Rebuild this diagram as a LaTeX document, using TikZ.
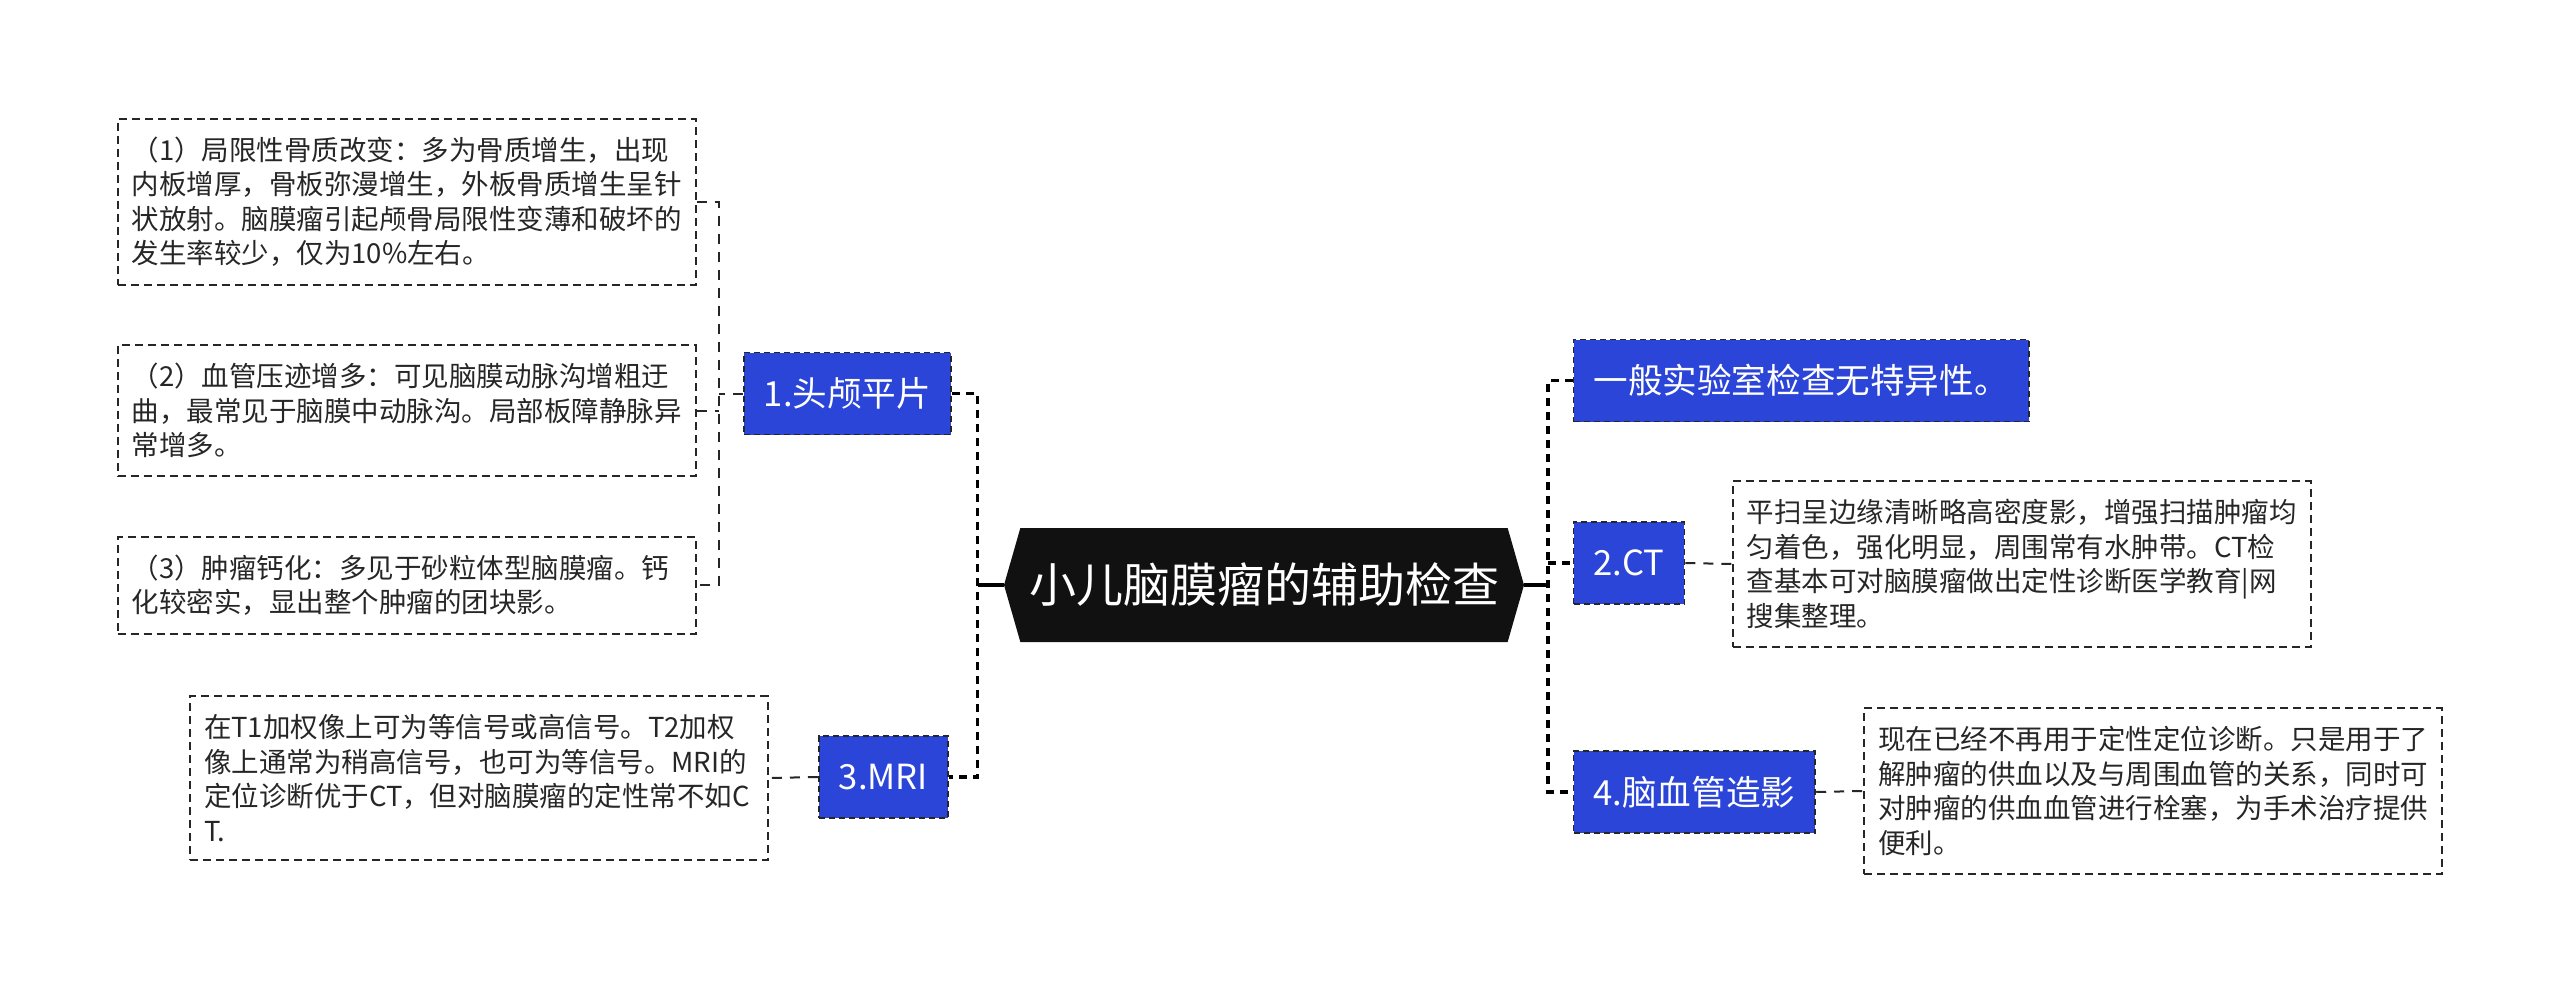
\documentclass[tikz,border=0pt]{standalone}
\usepackage{fontspec}
\setmainfont{Noto Sans CJK SC}
\usetikzlibrary{shapes.symbols}
\definecolor{headblack}{HTML}{111111}
\definecolor{subblue}{HTML}{2B45D9}
\definecolor{notegray}{HTML}{262626}

\begin{document}
\begin{tikzpicture}[x=0.5pt,y=-0.5pt,mainnode/.style={signal,signal to=east and west,signal pointer angle=148,fill=headblack,text=white,minimum width=260pt,minimum height=57pt,inner sep=0pt,font=\fontsize{23.5}{28}\selectfont},subnode/.style={rectangle,draw=black!85,dash pattern=on 3pt off 2pt,line width=0.9pt,fill=subblue,text=white,minimum height=41pt,inner xsep=10pt,inner ysep=0pt,font=\fontsize{17.3}{20}\selectfont},notebox/.style={rectangle,draw=notegray,dash pattern=on 4pt off 2.5pt,line width=1pt,text=notegray,text width=275pt,align=left,inner xsep=7pt,inner ysep=9pt,font=\fontsize{13.75}{17.25}\selectfont},trunkline/.style={draw=black,line width=1.8pt,dash pattern=on 4pt off 3pt},twigline/.style={draw=notegray,line width=1pt,dash pattern=on 5pt off 4pt},stubline/.style={draw=black,line width=1.8pt}]
\useasboundingbox (0,0) rectangle (2560,995);
\coordinate (lj) at (977.5,585);
\coordinate (rj) at (1548,585);
\coordinate (lb) at (718.5,393.5);
\node[mainnode] (head) at (1264,585) {小儿脑膜瘤的辅助检查};
\node[subnode,anchor=east] (xray) at (952,393.5) {1.头颅平片};
\node[subnode,anchor=east] (mri) at (948.8,777) {3.MRI};
\node[subnode,anchor=west] (lab) at (1572.6,380.5) {一般实验室检查无特异性。};
\node[subnode,anchor=west] (ct) at (1572.6,563) {2.CT};
\node[subnode,anchor=west] (dsa) at (1572.6,792) {4.脑血管造影};
\node[notebox] (xray1) at (406.6,201.6) {（1）局限性骨质改变：多为骨质增生，出现\\内板增厚，骨板弥漫增生，外板骨质增生呈针\\状放射。脑膜瘤引起颅骨局限性变薄和破坏的\\发生率较少，仅为10\%左右。};
\node[notebox] (xray2) at (406.6,410.7) {（2）血管压迹增多：可见脑膜动脉沟增粗迂\\曲，最常见于脑膜中动脉沟。局部板障静脉异\\常增多。};
\node[notebox] (xray3) at (406.6,585.4) {（3）肿瘤钙化：多见于砂粒体型脑膜瘤。钙\\化较密实，显出整个肿瘤的团块影。};
\node[notebox] (mrinote) at (479,778) {在T1加权像上可为等信号或高信号。T2加权\\像上通常为稍高信号，也可为等信号。MRI的\\定位诊断优于CT，但对脑膜瘤的定性常不如C\\T.};
\node[notebox] (ctnote) at (2021.6,564) {平扫呈边缘清晰略高密度影，增强扫描肿瘤均\\匀着色，强化明显，周围常有水肿带。CT检\\查基本可对脑膜瘤做出定性诊断医学教育|网\\搜集整理。};
\node[notebox] (dsanote) at (2153,791) {现在已经不再用于定性定位诊断。只是用于了\\解肿瘤的供血以及与周围血管的关系，同时可\\对肿瘤的供血血管进行栓塞，为手术治疗提供\\便利。};
\draw[stubline] (head.west) -- (lj);
\draw[stubline] (head.east) -- (rj);
\draw[trunkline] (xray.east) -- (xray.east -| lj) -- (mri.east -| lj) -- (mri.east);
\draw[trunkline] (lab.west) -- (lab.west -| rj) -- (dsa.west -| rj) -- (dsa.west);
\draw[trunkline] (ct.west -| rj) -- (ct.west);
\draw[twigline] (xray.west) -- (lb);
\draw[twigline] (xray1.east) -| (lb) |- (xray3.east);
\draw[twigline] (xray2.east) -- (xray2.east -| lb);
\draw[twigline] (mri.west) -- (mrinote.east);
\draw[twigline] (ct.east) -- (ctnote.west);
\draw[twigline] (dsa.east) -- (dsanote.west);
\end{tikzpicture}
\end{document}
